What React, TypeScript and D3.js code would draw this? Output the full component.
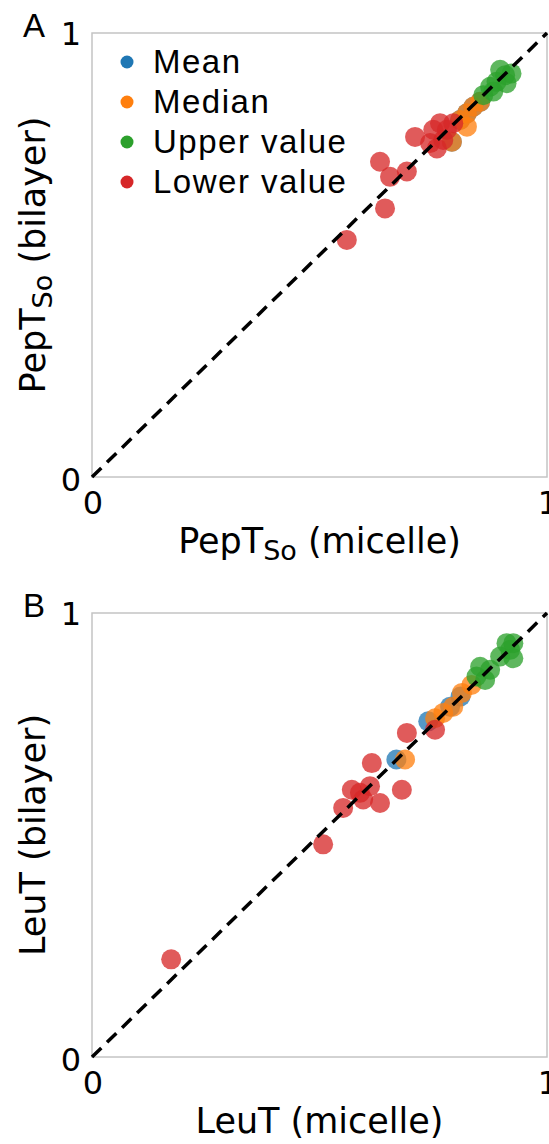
import React from 'react';
import * as d3 from 'd3';

// ---------- Data ----------
const seriesNames = ['Mean', 'Median', 'Upper value', 'Lower value'];
const seriesColors = ['#1f77b4', '#ff7f0e', '#2ca02c', '#d62728'];
const tickValues = [0, 1];
const tickLabels = ['0', '1'];

// Panel A: PepT_So
const pepMeanX = [0.791, 0.809, 0.824, 0.838, 0.853];
const pepMeanY = [0.755, 0.804, 0.819, 0.834, 0.845];
const pepMedianX = [0.791, 0.809, 0.824, 0.824, 0.838, 0.853];
const pepMedianY = [0.755, 0.804, 0.819, 0.789, 0.834, 0.845];
const pepUpperX = [0.860, 0.875, 0.882, 0.889, 0.908, 0.911, 0.922, 0.897];
const pepUpperY = [0.860, 0.879, 0.868, 0.890, 0.905, 0.887, 0.909, 0.917];
const pepLowerX = [0.560, 0.644, 0.633, 0.655, 0.692, 0.710, 0.743, 0.750, 0.758, 0.765, 0.772, 0.780, 0.794];
const pepLowerY = [0.534, 0.605, 0.710, 0.676, 0.688, 0.766, 0.752, 0.782, 0.740, 0.797, 0.759, 0.782, 0.797];

// Panel B: LeuT
const leuMeanX = [0.669, 0.739, 0.787, 0.810];
const leuMeanY = [0.670, 0.756, 0.789, 0.812];
const leuMedianX = [0.688, 0.754, 0.772, 0.794, 0.813, 0.834];
const leuMedianY = [0.670, 0.763, 0.775, 0.789, 0.820, 0.838];
const leuUpperX = [0.845, 0.853, 0.864, 0.875, 0.897, 0.919, 0.926, 0.911, 0.926];
const leuUpperY = [0.857, 0.879, 0.849, 0.872, 0.902, 0.917, 0.898, 0.932, 0.932];
const leuLowerX = [0.174, 0.508, 0.552, 0.571, 0.589, 0.596, 0.611, 0.633, 0.615, 0.681, 0.692, 0.754];
const leuLowerY = [0.220, 0.479, 0.561, 0.602, 0.595, 0.580, 0.610, 0.572, 0.662, 0.602, 0.730, 0.737];

type Pt = { x: number; y: number };
const zip = (xs: number[], ys: number[]): Pt[] => xs.map((x, i) => ({ x, y: ys[i] }));

const W = 549;
const H = 1144;
const LEFT = 92;
const RIGHT = 547;
const PH = 444;

const AX_FONT = '"DejaVu Sans", sans-serif';
const LG_FONT = '"Liberation Sans", Arial, sans-serif';

interface PanelProps {
  top: number;
  letter: string;
  xMain: string;
  yMain: string;
  sub: string;
  series: Pt[][];
  legend: boolean;
}

function Panel({ top, letter, xMain, yMain, sub, series, legend }: PanelProps) {
  const bottom = top + PH;
  const x = d3.scaleLinear().domain([0, 1]).range([LEFT, RIGHT]);
  const y = d3.scaleLinear().domain([0, 1]).range([bottom, top]);
  const diag = d3.line<number>().x((d) => x(d)).y((d) => y(d))([0, 1]) || '';
  const cx = (LEFT + RIGHT) / 2;
  const cy = (top + bottom) / 2;
  return (
    <g>
      <rect x={LEFT} y={top} width={RIGHT - LEFT} height={PH} fill="none" stroke="#c4c4c4" strokeWidth={1.5} />
      {series.map((pts, si) => (
        <g key={si}>
          {pts.map((p, i) => (
            <circle key={i} cx={x(p.x)} cy={y(p.y)} r={10} fill={seriesColors[si]} fillOpacity={0.76} />
          ))}
        </g>
      ))}
      <path d={diag} stroke="#000" strokeWidth={3.5} strokeDasharray="13 8" fill="none" />
      {tickValues.map((v, i) => (
        <text key={'y' + i} x={LEFT - 11} y={y(v) + 12 + (v === 0 ? 2 : 0)} textAnchor="end" fontFamily={AX_FONT} fontSize={32} fill="#000">
          {tickLabels[i]}
        </text>
      ))}
      {tickValues.map((v, i) => (
        <text key={'x' + i} x={x(v) + 1} y={bottom + 37} textAnchor="middle" fontFamily={AX_FONT} fontSize={32} fill="#000">
          {tickLabels[i]}
        </text>
      ))}
      <text x={cx} y={bottom + 76} textAnchor="middle" fontFamily={AX_FONT} fontSize={35} fill="#000">
        {xMain}
        {sub ? <tspan fontSize={27} dy={7}>{sub}</tspan> : null}
        {sub ? <tspan dy={-7}>{' (micelle)'}</tspan> : <tspan>{' (micelle)'}</tspan>}
      </text>
      <text transform={`translate(45,${cy}) rotate(-90)`} textAnchor="middle" fontFamily={AX_FONT} fontSize={35} fill="#000">
        {yMain}
        {sub ? <tspan fontSize={27} dy={7}>{sub}</tspan> : null}
        {sub ? <tspan dy={-7}>{' (bilayer)'}</tspan> : <tspan>{' (bilayer)'}</tspan>}
      </text>
      <text x={23} y={top + 4} fontFamily={LG_FONT} fontSize={33} fill="#000">
        {letter}
      </text>
      {legend &&
        seriesNames.map((name, i) => {
          const base = top + 40 + i * 40;
          return (
            <g key={name}>
              <circle cx={127} cy={base - 11} r={6.5} fill={seriesColors[i]} />
              <text x={153} y={base} fontFamily={LG_FONT} fontSize={33} letterSpacing={1.5} fill="#000">
                {name}
              </text>
            </g>
          );
        })}
    </g>
  );
}

export default function App() {
  const seriesA = [zip(pepMeanX, pepMeanY), zip(pepMedianX, pepMedianY), zip(pepUpperX, pepUpperY), zip(pepLowerX, pepLowerY)];
  const seriesB = [zip(leuMeanX, leuMeanY), zip(leuMedianX, leuMedianY), zip(leuUpperX, leuUpperY), zip(leuLowerX, leuLowerY)];
  return (
    <svg width={W} height={H} style={{ position: 'absolute', left: 0, top: 0, background: '#fff' }}>
      <rect x={0} y={0} width={W} height={H} fill="#fff" />
      <Panel top={33} letter="A" xMain="PepT" yMain="PepT" sub="So" series={seriesA} legend={true} />
      <Panel top={613} letter="B" xMain="LeuT" yMain="LeuT" sub="" series={seriesB} legend={false} />
    </svg>
  );
}
